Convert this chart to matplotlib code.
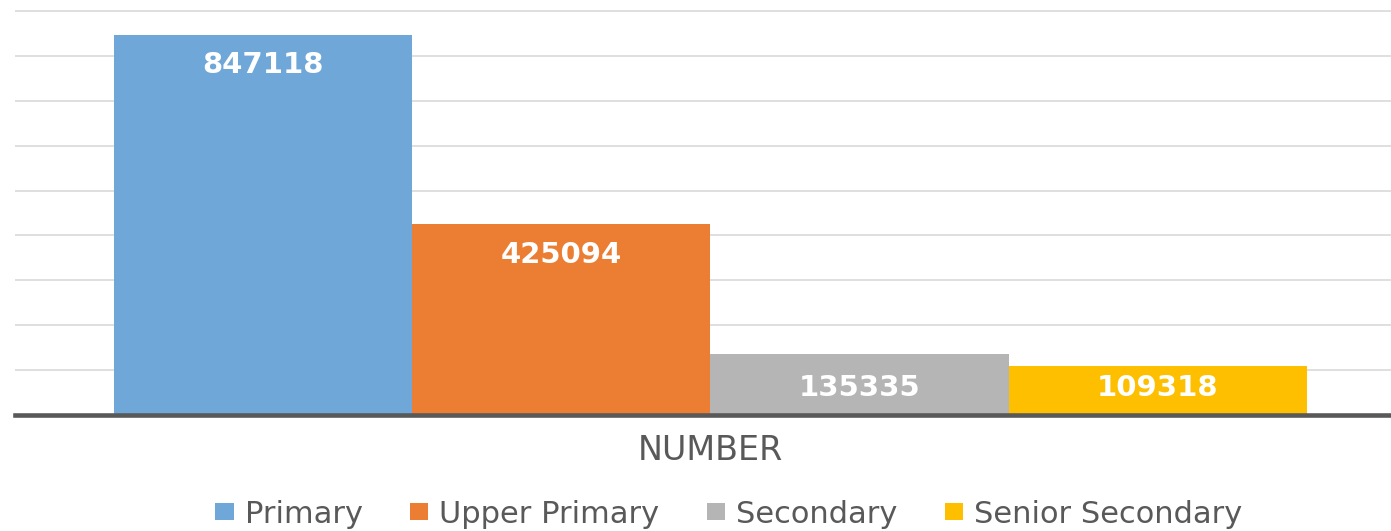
import numpy as np
import matplotlib.pyplot as plt

categories = ['NUMBER']
series = ['Primary', 'Upper Primary', 'Secondary', 'Senior Secondary']
values = [847118, 425094, 135335, 109318]
colors = ['#6fa7d9', '#ec7e33', '#b5b5b5', '#fdbf00']

plt.rcParams['font.family'] = ['DejaVu Sans']

fig = plt.figure(figsize=(13.91, 5.31), dpi=100)
ax = fig.add_axes([0.0105, 0.2185, 0.9895, 0.7608 * 1.02])

w = 0.2
offsets = (np.arange(len(series)) - (len(series) - 1) / 2) * w
for off, name, val, col in zip(offsets, series, values, colors):
    ax.bar(off, val, width=w, color=col, label=name, zorder=2)
    # inside-end labels, short bars get a common low position
    ly = val - 68000 if val - 68000 > 100000 else 60000
    ax.text(off, ly, str(val), ha='center', va='center',
            color='white', fontsize=21, fontweight='bold', zorder=3)

ax.set_xlim(-0.4663, 0.4563)
ax.set_ylim(0, 900000 * 1.02)
ax.set_yticks(np.arange(100000, 900001, 100000))
ax.yaxis.grid(True, color='#d9d9d9', linewidth=1.2, zorder=0)
ax.tick_params(axis='y', length=0, labelleft=False)
ax.axhline(0, color='#595959', linewidth=3.3, zorder=4, clip_on=False)

ax.set_xticks([0])
ax.set_xticklabels(categories, fontsize=24, color='#595959')
ax.tick_params(axis='x', length=0, pad=14)

for s in ax.spines.values():
    s.set_visible(False)

fig.legend(loc='center', bbox_to_anchor=(0.524, 0.032), ncol=4, frameon=False,
           fontsize=22, labelcolor='#595959', handlelength=0.6, handleheight=0.5,
           handletextpad=0.36, columnspacing=1.55, borderaxespad=0)

fig.savefig('out.png', dpi=100)
